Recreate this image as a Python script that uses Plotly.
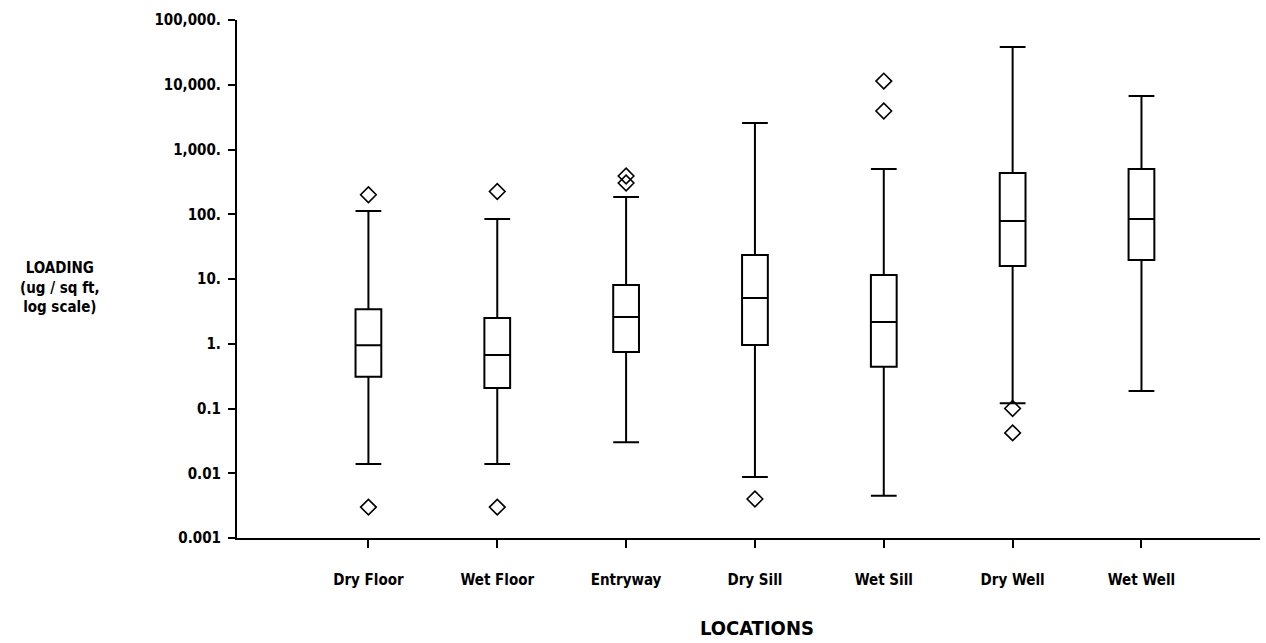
import plotly.graph_objects as go

categories = ["Dry Floor", "Wet Floor", "Entryway", "Dry Sill", "Wet Sill", "Dry Well", "Wet Well"]
lower_whisker = [0.0139, 0.0139, 0.030, 0.00875, 0.0045, 0.12, 0.186]
q1 = [0.31, 0.207, 0.746, 0.957, 0.44, 15.9, 19.6]
median = [0.95, 0.67, 2.59, 5.09, 2.17, 78.7, 84.5]
q3 = [3.4, 2.5, 8.07, 23.5, 11.5, 434, 500]
upper_whisker = [112, 84.5, 185, 2565, 500, 38300, 6700]

outlier_cats = ["Dry Floor", "Dry Floor", "Wet Floor", "Wet Floor", "Entryway", "Entryway",
                "Dry Sill", "Wet Sill", "Wet Sill", "Dry Well", "Dry Well"]
outlier_vals = [200, 0.003, 225, 0.003, 390, 304,
                0.004, 11400, 3930, 0.1, 0.042]

y_tickvals = [0.001, 0.01, 0.1, 1, 10, 100, 1000, 10000, 100000]
y_ticktext = ["0.001", "0.01", "0.1", "1.", "10.", "100.", "1,000.", "10,000.", "100,000."]

FONT = "DejaVu Sans Condensed, Liberation Sans Narrow, Arial Narrow, sans-serif"

fig = go.Figure()
fig.add_trace(go.Box(
    x=categories,
    q1=q1, median=median, q3=q3,
    lowerfence=lower_whisker, upperfence=upper_whisker,
    width=0.2, whiskerwidth=1,
    fillcolor="white",
    line=dict(color="black", width=2),
    boxpoints=False,
    showlegend=False,
))
fig.add_trace(go.Scatter(
    x=outlier_cats, y=outlier_vals, mode="markers",
    marker=dict(symbol="diamond-open", size=12, color="black", line=dict(width=1.6, color="black")),
    showlegend=False,
))

fig.update_layout(
    width=1266, height=643,
    margin=dict(l=237, r=6, t=20, b=105),
    paper_bgcolor="white", plot_bgcolor="white",
    font=dict(family=FONT, color="black", size=14),
    xaxis=dict(
        type="category", categoryorder="array", categoryarray=categories,
        range=[-1.02, 6.92],
        showline=True, linecolor="black", linewidth=2,
        ticks="outside", ticklen=8, tickwidth=2, tickcolor="black",
        tickvals=categories, ticktext=["<b>%s</b>" % c for c in categories],
        tickfont=dict(family=FONT, size=15, color="black"),
        ticklabelstandoff=19,
        showgrid=False, zeroline=False,
    ),
    yaxis=dict(
        type="log", range=[-3, 5],
        showline=True, linecolor="black", linewidth=2,
        ticks="outside", ticklen=7, tickwidth=2, tickcolor="black",
        tickvals=y_tickvals, ticktext=["<b>%s</b>" % t for t in y_ticktext],
        tickfont=dict(family=FONT, size=15, color="black"),
        ticklabelstandoff=4,
        showgrid=False, zeroline=False,
    ),
    annotations=[
        dict(text="<b>LOADING</b><br><b>(ug / sq ft,</b><br><b>log scale)</b>",
             xref="paper", yref="paper", x=-0.173, y=0.483, xanchor="center", yanchor="middle",
             showarrow=False, align="center", font=dict(family=FONT, size=15, color="black")),
        dict(text="<b>LOCATIONS</b>", xref="paper", yref="paper", x=0.508, y=-0.173,
             xanchor="center", yanchor="middle", showarrow=False,
             font=dict(family=FONT, size=20, color="black")),
    ],
)

fig.write_html("out.html")
